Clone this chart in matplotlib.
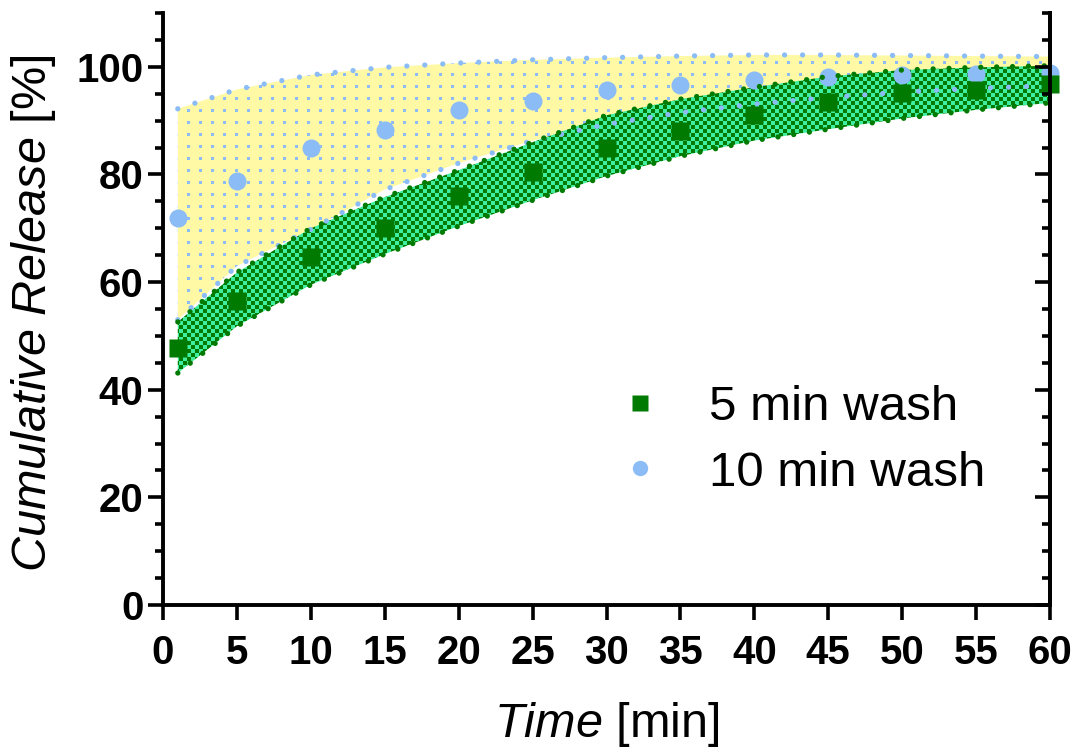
import numpy as np
import matplotlib
matplotlib.use("Agg")
import matplotlib.pyplot as plt
from matplotlib.ticker import MultipleLocator

plt.rcParams["font.family"] = ["Liberation Sans", "DejaVu Sans"]
plt.rcParams["mathtext.fontset"] = "custom"
plt.rcParams["mathtext.rm"] = "Liberation Sans"
plt.rcParams["mathtext.it"] = "Liberation Sans:italic"

# data
t = [1, 5, 10, 15, 20, 25, 30, 35, 40, 45, 50, 55, 60]
wash5 = [47.8, 56.5, 64.7, 70.1, 76.0, 80.5, 84.9, 88.1, 91.1, 93.4, 95.1, 95.7, 96.8]
wash10 = [71.9, 78.8, 84.9, 88.3, 92.0, 93.7, 95.7, 96.7, 97.6, 98.1, 98.5, 98.7, 98.8]
# bands around the fits
wash5_lo = [43.1, 51.8, 59.5, 65.2, 70.4, 75.2, 79.7, 83.4, 86.3, 88.4, 90.4, 92.0, 93.3]
wash5_hi = [52.6, 61.8, 70.0, 75.8, 80.8, 86.0, 91.0, 94.0, 96.2, 98.2, 99.4, 99.9, 100.2]
wash10_lo = [53.0, 63.0, 69.8, 77.2, 82.1, 86.3, 89.3, 91.5, 93.1, 94.3, 95.3, 96.0, 96.5]
wash10_hi = [92.2, 95.8, 98.5, 99.9, 100.7, 101.3, 101.7, 102.0, 102.2, 102.2, 102.1, 102.0, 101.9]

green = "#007a00"
green_lt = "#40eea0"
blue = "#8cbcf6"
yellow = "#fff9a6"

fig = plt.figure(figsize=(10.83, 7.49), dpi=100)
ax = fig.add_axes([163 / 1083, 1 - 605 / 749, 887 / 1083, 592 / 749])
ax.set_xlim(0, 60)
ax.set_ylim(0, 110)

# textures in pixel units
bb = ax.get_window_extent()
W, H = int(round(bb.width)), int(round(bb.height))
jj, ii = np.meshgrid(np.arange(W), np.arange(H))

def rgb(c):
    return np.array(matplotlib.colors.to_rgb(c))

checker = ((ii // 4 + jj // 4) % 2 == 0)
tex_g = np.where(checker[..., None], rgb(green), rgb(green_lt))
dots = (ii % 12 < 3) & (jj % 12 < 3)
tex_y = np.where(dots[..., None], rgb(blue), rgb(yellow))

band10 = ax.fill_between(t, wash10_lo, wash10_hi, facecolor="none", edgecolor="none")
im_y = ax.imshow(tex_y, extent=[0, 60, 0, 110], aspect="auto", interpolation="nearest", zorder=1)
im_y.set_clip_path(band10.get_paths()[0], transform=ax.transData)

band5 = ax.fill_between(t, wash5_lo, wash5_hi, facecolor="none", edgecolor="none")
im_g = ax.imshow(tex_g, extent=[0, 60, 0, 110], aspect="auto", interpolation="nearest", zorder=2)
im_g.set_clip_path(band5.get_paths()[0], transform=ax.transData)

dot_b = dict(color=blue, lw=3.8, linestyle=(0, (0.01, 3.4)), solid_capstyle="round", dash_capstyle="round")
dot_g = dict(color=green, lw=3.8, linestyle=(0, (0.01, 3.0)), solid_capstyle="round", dash_capstyle="round")

ax.plot(t, wash10_lo, zorder=3, **dot_b)
ax.plot(t, wash10_hi, zorder=3, **dot_b)
h10, = ax.plot(t, wash10, "o", color=blue, ms=13, mec="none", zorder=4, clip_on=False, label="10 min wash")
ax.plot(t, wash5_lo, zorder=5, **dot_g)
ax.plot(t, wash5_hi, zorder=5, **dot_g)
h5, = ax.plot(t, wash5, "s", color=green, ms=13, mec="none", zorder=6, clip_on=False, label="5 min wash")

ax.set_xticks(range(0, 61, 5))
ax.set_yticks(range(0, 101, 20))
ax.yaxis.set_minor_locator(MultipleLocator(5))

for s in ["left", "bottom", "right"]:
    ax.spines[s].set_linewidth(2.8)
ax.spines["top"].set_visible(False)
ax.tick_params(axis="both", which="major", length=11, width=2.6, labelsize=29, pad=3)
ax.tick_params(axis="x", pad=10)
ax.tick_params(axis="y", which="minor", length=6, width=2.6)
for lab in ax.get_xticklabels() + ax.get_yticklabels():
    lab.set_fontweight("bold")

ax2 = ax.twinx()
ax2.set_ylim(0, 110)
ax2.set_yticks(range(0, 101, 20))
ax2.yaxis.set_minor_locator(MultipleLocator(5))
ax2.tick_params(axis="y", which="major", direction="in", length=11, width=2.6, labelright=False)
ax2.tick_params(axis="y", which="minor", direction="in", length=6, width=2.6)
for s in ["left", "top", "bottom"]:
    ax2.spines[s].set_visible(False)
ax2.spines["right"].set_linewidth(2.8)

ax.set_xlabel(r"$\mathit{Time}$ [min]", fontsize=35, labelpad=20)
ax.set_ylabel(r"$\mathit{Cumulative\ Release}$ [%]", fontsize=35)
ax.yaxis.set_label_coords(-0.118, 0.493)

ax.legend(handles=[h5, h10], loc="upper left", bbox_to_anchor=(620 / 1083, 1 - 385 / 749),
          bbox_transform=fig.transFigure, frameon=False, fontsize=35.5, handlelength=0.8,
          handletextpad=1.0, labelspacing=0.42, borderpad=0, borderaxespad=0, markerscale=0.85)

fig.savefig("out.png", dpi=100)
